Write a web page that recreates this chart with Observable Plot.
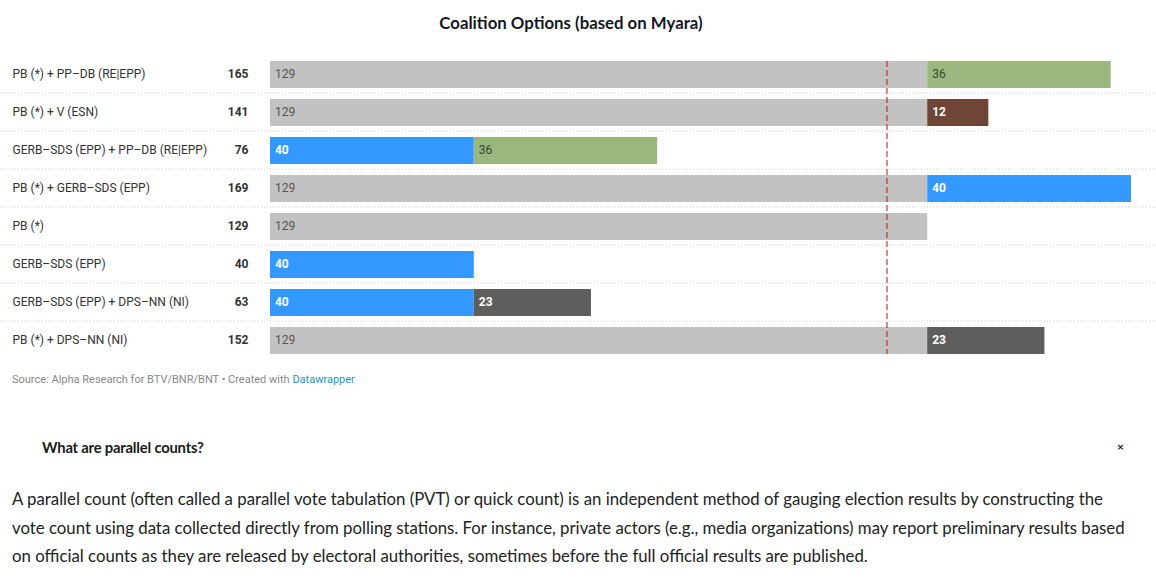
<!DOCTYPE html>
<html><head><meta charset="utf-8">
<script src="https://cdn.jsdelivr.net/npm/d3@7"></script>
<script src="https://cdn.jsdelivr.net/npm/@observablehq/plot@0.6"></script>
<style>
html,body{margin:0;padding:0;background:#fff;width:1156px;height:586px;overflow:hidden}
body{position:relative;font-family:Lato,sans-serif;color:#1a1a1a}
#title{position:absolute;left:0;width:1142px;top:12px;text-align:center;font:700 16.8px/22px Lato,sans-serif;color:#14171f}
#chart{position:absolute;left:0;top:42px}
#chart svg{display:block}
#source{position:absolute;left:12px;top:373px;font:11px/14px Roboto,sans-serif;color:#888}
#source span{color:#1d96cc}
#q{position:absolute;left:42px;top:437px;font:700 14.8px/20px Lato,sans-serif;color:#1a1a1a;letter-spacing:-.2px}
#x{position:absolute;left:1117px;top:439px;font:700 12px/16px Lato,sans-serif}
#p{position:absolute;left:12px;top:485px;font:16.8px/28.5px Lato,sans-serif;white-space:nowrap;color:#222}
</style></head><body>
<div id="title">Coalition Options (based on Myara)</div>
<div id="chart"></div>
<div id="source">Source: Alpha Research for BTV/BNR/BNT • Created with <span>Datawrapper</span></div>
<div id="q">What are parallel counts?</div>
<div id="x">×</div>
<div id="p">A parallel count (often called a parallel vote tabulation (PVT) or quick count) is an independent method of gauging election results by constructing the<br>vote count using data collected directly from polling stations. For instance, private actors (e.g., media organizations) may report preliminary results based<br>on official counts as they are released by electoral authorities, sometimes before the full official results are published.</div>
<script>
const rows = ["PB (*) + PP–DB (RE|EPP)","PB (*) + V (ESN)","GERB–SDS (EPP) + PP–DB (RE|EPP)","PB (*) + GERB–SDS (EPP)","PB (*)","GERB–SDS (EPP)","GERB–SDS (EPP) + DPS–NN (NI)","PB (*) + DPS–NN (NI)"];
const totals = [165,141,76,169,129,40,63,152];
const firstParty = ["PB","PB","GERB","PB","PB","GERB","GERB","PB"];
const firstValue = [129,129,40,129,129,40,40,129];
const secondParty = ["PPDB","V","PPDB","GERB",null,null,"DPS","DPS"];
const secondValue = [36,12,36,40,0,0,23,23];
const partyKeys = ["PB","GERB","PPDB","V","DPS"];
const partyColors = ["#c2c2c2","#3398ff","#9ab77f","#6f4538","#5e5e5e"];
const labelColors = ["#555555","#ffffff","#3b4632","#ffffff","#ffffff"];
const labelWeights = ["400","700","400","700","700"];
const majority = 121;

const parts = rows.flatMap((r,i)=>{
  const a=[{row:r,party:firstParty[i],value:firstValue[i],start:0}];
  if(secondValue[i]>0) a.push({row:r,party:secondParty[i],value:secondValue[i],start:firstValue[i]});
  return a;
});
const fillOf=p=>partyColors[partyKeys.indexOf(p)];
const labelOf=p=>labelColors[partyKeys.indexOf(p)];
const font="Roboto, sans-serif";
const labelMark=(weight)=>Plot.text(parts.filter(d=>labelWeights[partyKeys.indexOf(d.party)]===weight),
  {x:"start",y:"row",text:d=>String(d.value),fill:d=>labelOf(d.party),textAnchor:"start",dx:4.5,dy:-1,fontSize:12,fontWeight:weight,fontFamily:font});
const summary=rows.map((r,i)=>({row:r,total:totals[i]}));

const chart=Plot.plot({
  width:1156,height:330,
  marginLeft:0,marginRight:0,marginTop:0,marginBottom:0,
  x:{domain:[-50.44,169],range:[13,1131],axis:null},
  y:{domain:rows,range:[7,323],padding:0.2895,axis:null},
  style:{background:"transparent",overflow:"visible"},
  marks:[
    Plot.ruleY(rows.slice(0,-1),{y:d=>d,dy:18,stroke:"#cccccc",strokeDasharray:"1,2",strokeWidth:1}),
    Plot.barX(parts,Plot.stackX({x:"value",y:"row",order:null,fill:d=>fillOf(d.party)})),
    Plot.text(rows,{x:-50.44,dx:-1,dy:-1,y:d=>d,text:d=>d,textAnchor:"start",fontSize:12,fontFamily:font,fill:"#333"}),
    Plot.text(summary,{x:0,dx:-22,dy:-1,y:"row",text:d=>String(d.total),textAnchor:"end",fontSize:12,fontWeight:700,fontFamily:font,fill:"#333"}),
    labelMark("400"),labelMark("700"),
    Plot.ruleX([majority],{y1:()=>rows[0],y2:()=>rows[rows.length-1],stroke:"#c71e1d",strokeOpacity:.55,strokeWidth:2,strokeDasharray:"6,3"})
  ]
});
document.getElementById("chart").append(chart);
</script>
</body></html>
